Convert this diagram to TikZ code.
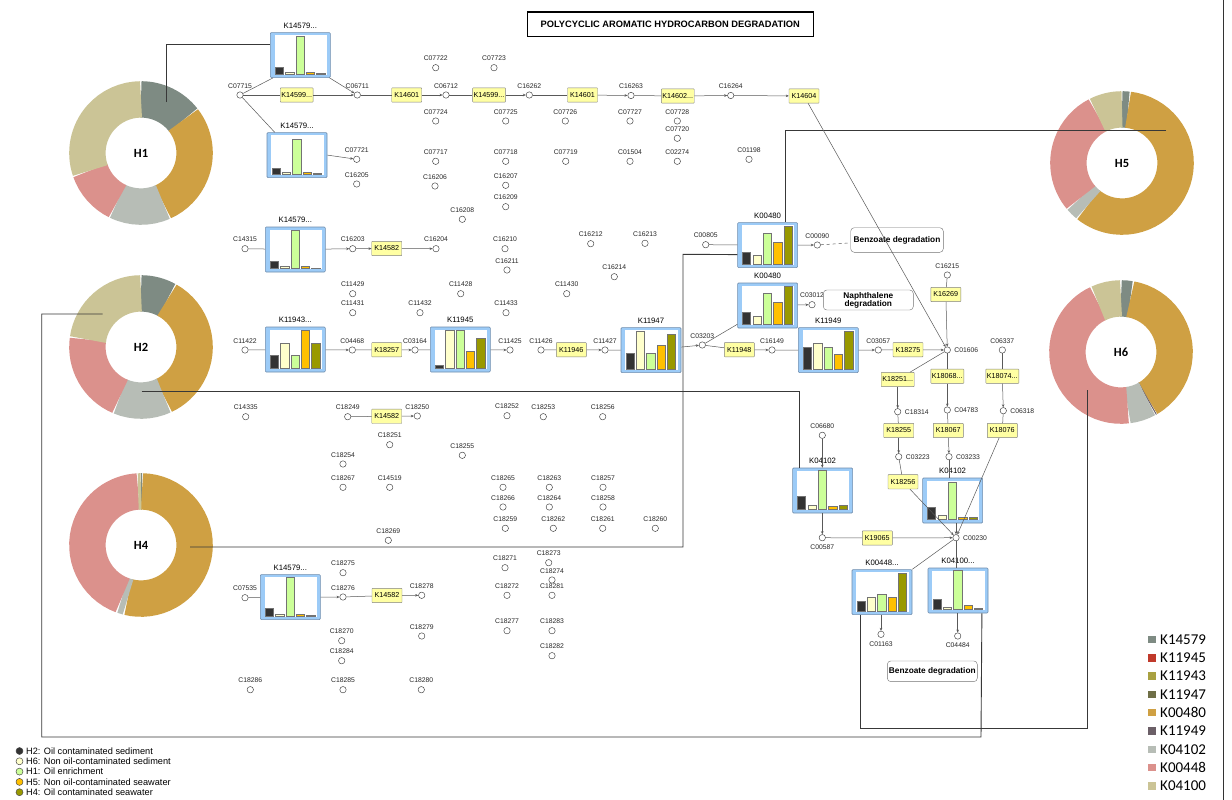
\documentclass[tikz,border=0pt]{standalone}
\usepackage{fontspec}
\setmainfont{Liberation Sans}
\newfontfamily\calib{Carlito}
\usetikzlibrary{arrows.meta}
\definecolor{kyellow}{HTML}{FFFFA3}
\definecolor{chblue}{HTML}{9CCBF7}
\definecolor{chborder}{HTML}{6F8DAD}
\definecolor{bA}{HTML}{333333}
\definecolor{bB}{HTML}{FFFFCC}
\definecolor{bC}{HTML}{CCFF99}
\definecolor{bD}{HTML}{FFC000}
\definecolor{bE}{HTML}{999900}
\definecolor{dKa}{HTML}{7E8B83}
\definecolor{dKb}{HTML}{C0392B}
\definecolor{dKc}{HTML}{A9A141}
\definecolor{dKd}{HTML}{6F6F47}
\definecolor{dKe}{HTML}{CFA043}
\definecolor{dKf}{HTML}{6B5F67}
\definecolor{dKg}{HTML}{B7BDB6}
\definecolor{dKh}{HTML}{DB918C}
\definecolor{dKi}{HTML}{CBC496}
\tikzset{
 cpd/.style={circle, draw=black!70, fill=white, line width=0.5pt, minimum size=6.4pt, inner sep=0pt},
 clab/.style={font=\fontsize{6.8}{7}\selectfont, text=black!85, inner sep=0.5pt},
 kbox/.style={draw=black!50, fill=kyellow, minimum width=30pt, minimum height=14.3pt, inner sep=1pt, font=\fontsize{7.2}{8}\selectfont, rounded corners=0.6pt},
 chfr/.style={draw=chborder, fill=chblue, minimum width=60pt, minimum height=45pt, inner sep=0pt, line width=0.6pt, rounded corners=1pt},
 chlab/.style={font=\fontsize{7.8}{9}\selectfont, inner sep=0.5pt},
 conn/.style={draw=black!65, line width=0.5pt},
 arr/.style={conn, -{Stealth[length=3pt,width=2.6pt]}},
 hline/.style={draw=black!78, line width=0.9pt},
 bar/.style={draw=black!55, line width=0.4pt},
 pathbox/.style={draw=black!55, rounded corners=3.5pt, fill=white, font=\bfseries\fontsize{8.3}{9.3}\selectfont, align=center, inner sep=1pt},
 dlab/.style={font=\calib\bfseries\fontsize{12.5}{13}\selectfont},
 lgc/.style={circle, draw=black!70, minimum size=7pt, inner sep=0pt, line width=0.5pt},
 lgt/.style={font=\fontsize{9.2}{9.5}\selectfont, inner sep=0pt},
 rlsq/.style={minimum size=7.5pt, inner sep=0pt},
 rlt/.style={font=\calib\fontsize{15}{16}\selectfont, inner sep=0pt},
}
\newcommand\CPa[4]{\node[cpd] (#1) at (#2,#3) {}; \node[clab, anchor=base] (#1-l) at ([yshift=6.9pt]#1.center) {#4};}
\newcommand\CPr[4]{\node[cpd] (#1) at (#2,#3) {}; \node[clab, anchor=west] (#1-l) at ([xshift=3pt]#1.east) {#4};}
\newcommand\CPb[4]{\node[cpd] (#1) at (#2,#3) {}; \node[clab, anchor=north] (#1-l) at ([yshift=-3pt]#1.south) {#4};}
\newcommand\Chart[9]{%
 \node[chfr, anchor=north west] (#1) at (#2,#3) {};
 \node[chlab, anchor=base] (#1-l) at ([yshift=3.8pt]#1.north) {#4};
 \fill[white] (#2+4.5,#3+3) rectangle (#2+57,#3+42.5);
 \draw[bar, fill=bA] (#2+5,#3+41.8) rectangle ++(8.3,-#5);
 \draw[bar, fill=bB] (#2+15.4,#3+41.8) rectangle ++(8.3,-#6);
 \draw[bar, fill=bC] (#2+25.8,#3+41.8) rectangle ++(8.3,-#7);
 \draw[bar, fill=bD] (#2+36.2,#3+41.8) rectangle ++(8.3,-#8);
 \draw[bar, fill=bE] (#2+46.6,#3+41.8) rectangle ++(8.3,-#9);
}
\newcommand\seg[5]{\draw[line width=36.4pt, draw=#5] ([shift={(#1,#2)}]#3-90:53.6) arc[start angle=#3-90, end angle=#4-90, radius=53.6];}
\begin{document}
\begin{tikzpicture}[x=1pt,y=-1pt]
\useasboundingbox (0,0) rectangle (1232,800);
\fill[white] (0,0) rectangle (1232,800);
\draw[black!80, line width=0.8pt] (1223,0) -- (1223,800);
% title
\node[draw=black, line width=1.2pt, minimum width=286pt, minimum height=24.4pt, inner sep=0pt, font=\bfseries\fontsize{9.3}{10}\selectfont] (title) at (670.3,24.3) {POLYCYCLIC AROMATIC HYDROCARBON DEGRADATION};
% donuts
\seg{141}{153}{0}{52}{dKa}\seg{141}{153}{52}{156}{dKe}\seg{141}{153}{156}{206}{dKg}\seg{141}{153}{206}{251}{dKh}\seg{141}{153}{251}{360}{dKi}
\node[dlab] (H1) at (141,153) {H1};
\seg{141}{347}{0}{29}{dKa}\seg{141}{347}{29}{155}{dKe}\seg{141}{347}{155}{203}{dKg}\seg{141}{347}{203}{278}{dKh}\seg{141}{347}{278}{360}{dKi}
\node[dlab] (H2) at (141,347) {H2};
\seg{141}{545}{0}{1}{dKa}\seg{141}{545}{1}{194}{dKe}\seg{141}{545}{194}{200}{dKg}\seg{141}{545}{200}{357}{dKh}\seg{141}{545}{357}{360}{dKi}
\node[dlab] (H4) at (141,545) {H4};
\seg{1122}{163}{0}{6.5}{dKa}\seg{1122}{163}{6.5}{219}{dKe}\seg{1122}{163}{219}{230}{dKg}\seg{1122}{163}{230}{333}{dKh}\seg{1122}{163}{333}{360}{dKi}
\node[dlab] (H5) at (1122,163) {H5};
\seg{1121}{352}{0}{10}{dKa}\seg{1121}{352}{10}{150}{dKe}\seg{1121}{352}{150}{151}{dKf}\seg{1121}{352}{151}{173}{dKg}\seg{1121}{352}{173}{335}{dKh}\seg{1121}{352}{335}{360}{dKi}
\node[dlab] (H6) at (1121,352) {H6};
% charts
\Chart{chA}{270}{32.3}{K14579...}{7.3}{2.3}{38.3}{2.3}{0.8}
\Chart{chB}{266.7}{132.3}{K14579...}{6.4}{1.7}{35}{1.7}{0.7}
\Chart{chC}{265}{226.7}{K14579...}{7.6}{2}{38.3}{2}{0.7}
\Chart{chD}{265}{326.7}{K11943...}{13.3}{25.7}{13}{38.3}{25.7}
\Chart{chE}{430}{326.7}{K11945}{3.3}{38.3}{38.3}{17}{30.7}
\Chart{chF}{620.7}{327.3}{K11947}{16.3}{38}{16.3}{24}{35}
\Chart{chG}{737.3}{222.3}{K00480}{12.3}{9}{31.3}{22.3}{38}
\Chart{chH}{737.3}{282.7}{K00480}{12.7}{8.6}{31}{22.7}{38}
\Chart{chI}{798}{327.3}{K11949}{22.3}{25.7}{21.7}{15}{38}
\Chart{chJ}{792.3}{467.7}{K04102}{13.3}{4.7}{39}{3.3}{4}
\Chart{chK}{922.3}{477.7}{K04102}{12.6}{4.3}{37.6}{2.3}{2.7}
\Chart{chL}{851.7}{569.3}{K00448...}{10}{14}{17.4}{14}{38.4}
\Chart{chM}{927.7}{567.7}{K04100...}{10}{2.7}{39}{4}{1.3}
\Chart{chN}{260}{574.3}{K14579...}{8}{2.3}{39}{2.3}{1}
% compounds row 1
\CPa{C07722}{435.7}{67.7}{C07722}
\CPa{C07723}{494}{67.7}{C07723}
\CPa{C07715}{240}{95}{C07715}
\CPa{C06711}{357.3}{95}{C06711}
\CPa{C06712}{446}{95}{C06712}
\CPa{C16262}{529.3}{95}{C16262}
\CPa{C16263}{631}{95.5}{C16263}
\CPa{C16264}{730.7}{95.5}{C16264}
\CPa{C07724}{435.7}{121}{C07724}
\CPa{C07725}{505.7}{121}{C07725}
\CPa{C07726}{565.3}{121}{C07726}
\CPa{C07727}{630}{121}{C07727}
\CPa{C07728}{677.3}{121}{C07728}
\CPa{C07720}{677.3}{138.3}{C07720}
\CPa{C07721}{356.7}{159.3}{C07721}
\CPa{C07717}{435.7}{161.3}{C07717}
\CPa{C07718}{505.7}{161.3}{C07718}
\CPa{C07719}{565.7}{161.3}{C07719}
\CPa{C01504}{630}{161.3}{C01504}
\CPa{C02274}{677.3}{161.3}{C02274}
\CPa{C01198}{749}{159.3}{C01198}
\CPa{C16205}{356.7}{184}{C16205}
\CPa{C16206}{435}{186}{C16206}
\CPa{C16207}{505.7}{185.3}{C16207}
\CPa{C16209}{505.7}{206.7}{C16209}
\CPa{C16208}{462.3}{219.3}{C16208}
% row 2
\CPa{C14315}{245}{248.7}{C14315}
\CPa{C16203}{352.7}{248.7}{C16203}
\CPa{C16204}{436}{248.7}{C16204}
\CPa{C16210}{505}{248.7}{C16210}
\CPa{C16211}{507}{270}{C16211}
\CPa{C16212}{590.7}{243.7}{C16212}
\CPa{C16213}{645}{243.3}{C16213}
\CPa{C16214}{614.3}{276.7}{C16214}
\CPa{C00805}{705.7}{244.7}{C00805}
\CPa{C00090}{817.3}{245}{C00090}
\CPa{C11429}{352.7}{293.7}{C11429}
\CPa{C11428}{460.7}{293.7}{C11428}
\CPa{C11430}{566.7}{293.7}{C11430}
\CPa{C11431}{352.7}{312.7}{C11431}
\CPa{C11432}{420}{312.7}{C11432}
\CPa{C11433}{506}{312.7}{C11433}
\CPa{C16215}{947.3}{275}{C16215}
\CPa{C03012}{812}{304.7}{C03012}
% row 3
\CPa{C11422}{245}{350}{C11422}
\CPa{C04468}{352.3}{350}{C04468}
\CPa{C03164}{415}{350}{C03164}
\CPa{C11425}{510}{350}{C11425}
\CPa{C11426}{541}{350}{C11426}
\CPa{C11427}{605}{350}{C11427}
\CPa{C03203}{702.3}{345}{C03203}
\CPa{C16149}{772}{350}{C16149}
\CPa{C03057}{878.3}{350}{C03057}
\CPr{C01606}{947.3}{350}{C01606}
\CPa{C06337}{1002.3}{350}{C06337}
\CPr{C18314}{897.7}{411.7}{C18314}
\CPr{C04783}{947.3}{410}{C04783}
\CPr{C06318}{1003.3}{410.7}{C06318}
\CPr{C03223}{898.7}{456.7}{C03223}
\CPr{C03233}{949}{456.7}{C03233}
\CPa{C06680}{822.3}{435.3}{C06680}
\CPb{C00587}{822.3}{537.7}{C00587}
\CPr{C00230}{956}{537.7}{C00230}
\CPb{C01163}{881}{634.3}{C01163}
\CPb{C04484}{957.7}{636}{C04484}
% row 4
\CPa{C14335}{245.7}{416.7}{C14335}
\CPa{C18249}{347.7}{416.7}{C18249}
\CPa{C18250}{417.3}{416}{C18250}
\CPa{C18252}{507}{415.7}{C18252}
\CPa{C18253}{543.3}{416.7}{C18253}
\CPa{C18256}{602.7}{416.7}{C18256}
\CPa{C18251}{389.7}{444.7}{C18251}
\CPa{C18255}{462.3}{455.3}{C18255}
\CPa{C18254}{343}{464}{C18254}
\CPa{C18267}{343}{487.3}{C18267}
\CPa{C14519}{389.7}{487.3}{C14519}
\CPa{C18265}{503}{487.3}{C18265}
\CPa{C18263}{549.3}{487.3}{C18263}
\CPa{C18257}{603}{487.3}{C18257}
\CPa{C18266}{503}{507}{C18266}
\CPa{C18264}{549.3}{507}{C18264}
\CPa{C18258}{603}{507}{C18258}
\CPa{C18259}{505.3}{528.3}{C18259}
\CPa{C18262}{553.3}{528.3}{C18262}
\CPa{C18261}{602.7}{528.3}{C18261}
\CPa{C18260}{655.3}{528.3}{C18260}
\CPa{C18269}{388.3}{540.3}{C18269}
\CPa{C18271}{505}{567.7}{C18271}
\CPa{C18273}{548.7}{562.7}{C18273}
\CPa{C18274}{552}{580}{C18274}
\CPa{C18275}{343}{572.7}{C18275}
\CPa{C07535}{245}{597.7}{C07535}
\CPa{C18276}{343}{597}{C18276}
\CPa{C18278}{421.7}{595.3}{C18278}
\CPa{C18272}{507}{595.3}{C18272}
\CPa{C18281}{552}{595.3}{C18281}
\CPa{C18277}{507}{630.7}{C18277}
\CPa{C18283}{552}{630.7}{C18283}
\CPa{C18270}{341.7}{640.7}{C18270}
\CPa{C18279}{421.7}{636}{C18279}
\CPa{C18284}{341.7}{660.7}{C18284}
\CPa{C18282}{552}{655.7}{C18282}
\CPa{C18286}{250.3}{689.7}{C18286}
\CPa{C18285}{343}{689.7}{C18285}
\CPa{C18280}{421.3}{689.7}{C18280}
% reaction boxes
\node[kbox] (K14599a) at (296.7,95) {K14599...};
\node[kbox] (K14601a) at (406.7,95) {K14601};
\node[kbox] (K14599b) at (489,95) {K14599...};
\node[kbox] (K14601b) at (582.5,95) {K14601};
\node[kbox] (K14602) at (677.8,96) {K14602...};
\node[kbox] (K14604) at (804,96) {K14604};
\node[kbox] (K14582a) at (386.7,248.5) {K14582};
\node[kbox] (K18257) at (386.7,349.7) {K18257};
\node[kbox] (K11946) at (571.3,349.7) {K11946};
\node[kbox] (K11948) at (739.3,349.7) {K11948};
\node[kbox] (K18275) at (908,349.7) {K18275};
\node[kbox] (K16269) at (945.8,294.5) {K16269};
\node[kbox, minimum width=33pt] (K18251) at (897.7,379.5) {K18251...};
\node[kbox, minimum width=33pt] (K18068) at (947.3,376.2) {K18068...};
\node[kbox, minimum width=33pt] (K18074) at (1002.3,376.2) {K18074...};
\node[kbox] (K18255) at (898.7,430.5) {K18255};
\node[kbox] (K18067) at (948.3,430.5) {K18067};
\node[kbox] (K18076) at (1002.3,430.5) {K18076};
\node[kbox] (K18256) at (903,481.8) {K18256};
\node[kbox] (K19065) at (877.3,538) {K19065};
\node[kbox] (K14582b) at (386.7,416.3) {K14582};
\node[kbox] (K14582c) at (387,595.5) {K14582};
% pathway boxes
\node[pathbox, minimum width=92.6pt, minimum height=24.6pt] (Benz1) at (897,240) {Benzoate degradation};
\node[pathbox, minimum width=90pt, minimum height=20pt] (Naph) at (868.3,300) {Naphthalene\\[-1.5pt]degradation};
\node[pathbox, minimum width=90pt, minimum height=20.7pt] (Benz2) at (932.3,671.3) {Benzoate degradation};
% long connectors
\coordinate (h1a) at (166,102);
\draw[hline] (h1a) |- ([yshift=10.8pt]chA.west);
\coordinate (h2a) at (102.7,314);
\draw[hline] (h2a) -- (41.7,314) -- (41.7,737) -- (981,737) -- ([xshift=-6.4pt]chM.south east);
\coordinate (h2b) at (141.7,391);
\draw[hline] (h2b) -| ([xshift=6.7pt]chJ.north west);
\coordinate (h4a) at (190,547);
\draw[hline] (h4a) -- (683,547) -- (683,254.3) -- ([yshift=-9.5pt]chG.west);
\coordinate (h5a) at (1166,130);
\draw[hline] (h5a) -| ([xshift=48.4pt]chG.north west);
\coordinate (h6a) at (1087,390);
\draw[hline] (h6a) -- (1087,728) -| ([xshift=8.3pt]chL.south west);
% connectors row 1
\draw[conn] (C07715) -- ([xshift=3pt]chA.south west);
\draw[arr] ([xshift=-1pt]chA.south east) -- (C06711);
\draw[conn] (C07715) -- (K14599a);
\draw[arr] (K14599a) -- (C06711);
\draw[conn] (C07715) -- ([xshift=8pt]chB.north west);
\draw[arr] (chB.east) -- (C07721);
\draw[conn] (C06711) -- (K14601a);
\draw[arr] (K14601a) -- (C06712);
\draw[conn] (C06712) -- (K14599b);
\draw[arr] (K14599b) -- (C16262);
\draw[conn] (C16262) -- (K14601b);
\draw[arr] (K14601b) -- (C16263);
\draw[conn] (C16263) -- (K14602);
\draw[arr] (K14602) -- (C16264);
\draw[arr] (C16264) -- (K14604);
\draw[arr] (K14604) -- (C01606);
% row 2
\draw[conn] (C14315) -- (chC);
\draw[arr] (chC) -- (C16203);
\draw[arr] (C16203) -- (K14582a);
\draw[arr] (K14582a) -- (C16204);
% row 3
\draw[conn] (C11422) -- (chD);
\draw[arr] (chD) -- (C04468);
\draw[conn] (C04468) -- (K18257);
\draw[arr] (K18257) -- (C03164);
\draw[conn] (C03164) -- (chE);
\draw[arr] (chE) -- (C11425);
\draw[conn] (C11426) -- (K11946);
\draw[arr] (K11946) -- (C11427);
\draw[conn] (C11427) -- (chF);
\draw[arr] (chF) -- (C03203);
\draw[conn] (C03203) -- ([yshift=4pt]chH.south west);
\draw[arr] (chH) -- (C03012);
\draw[conn] (C03203) -- (K11948);
\draw[arr] (K11948) -- (C16149);
\draw[conn] (C16149) -- (chI);
\draw[arr] (chI) -- (C03057);
\draw[conn] (C03057) -- (K18275);
\draw[arr] (K18275) -- (C01606);
\draw[conn] (C00805) -- (chG);
\draw[arr] (chG) -- (C00090);
\draw[conn, dashed] (C00090) -- (Benz1);
\draw[conn] (C16215) -- (K16269);
\draw[arr] (K16269) -- (C01606);
\draw[conn] (C01606) -- (K18251);
\draw[conn] (C01606) -- (K18068);
\draw[conn] (C06337) -- (K18074);
\draw[arr] (K18251) -- (C18314);
\draw[arr] (K18068) -- (C04783);
\draw[arr] (K18074) -- (C06318);
\draw[conn] (C18314) -- (K18255);
\draw[conn] (C04783) -- (K18067);
\draw[conn] (C06318) -- (K18076);
\draw[arr] (K18255) -- (C03223);
\draw[arr] (K18067) -- (C03233);
\draw[arr] (K18076) -- (C00230);
\draw[conn] (C03223) -- (K18256);
\draw[arr] (K18256) -- (C00230);
\draw[conn] (C03233) -- (C03233 |- chK.north);
\draw[arr] (C00230 |- chK.south) -- (C00230);
\draw[arr] (C06680) -- (C06680 |- chJ.north);
\draw[arr] (C00587 |- chJ.south) -- (C00587);
\draw[conn] (C00587) -- (K19065);
\draw[arr] (K19065) -- (C00230);
\draw[conn] (C00230) -- (chL.north east);
\draw[conn] (C00230) -- (C00230 |- chM.north);
\draw[arr] (C01163 |- chL.south) -- (C01163);
\draw[arr] (C04484 |- chM.south) -- (C04484);
% row 4
\draw[conn] (C18249) -- (K14582b);
\draw[arr] (K14582b) -- (C18250);
\draw[conn] (C07535) -- (chN);
\draw[arr] (chN) -- (C18276);
\draw[conn] (C18276) -- (K14582c);
\draw[arr] (K14582c) -- (C18278);
% legend bottom-left
\node[lgc, fill=bA] (lg1) at (19.5,751) {};
\node[lgt, anchor=west] (lg1t) at (26,751) {H2: Oil contaminated sediment};
\node[lgc, fill=bB] (lg2) at (19.5,761.3) {};
\node[lgt, anchor=west] (lg2t) at (26,761.3) {H6: Non oil-contaminated sediment};
\node[lgc, fill=bC] (lg3) at (19.5,771.6) {};
\node[lgt, anchor=west] (lg3t) at (26,771.6) {H1: Oil enrichment};
\node[lgc, fill=bD] (lg4) at (19.5,781.9) {};
\node[lgt, anchor=west] (lg4t) at (26,781.9) {H5: Non oil-contaminated seawater};
\node[lgc, fill=bE] (lg5) at (19.5,792.2) {};
\node[lgt, anchor=west] (lg5t) at (26,792.2) {H4: Oil contaminated seawater};
% legend right
\node[rlsq, fill=dKa] (r1) at (1152,639.5) {};
\node[rlt, anchor=west] (r1t) at (1160,639.5) {K14579};
\node[rlsq, fill=dKb] (r2) at (1152,657.8) {};
\node[rlt, anchor=west] (r2t) at (1160,657.8) {K11945};
\node[rlsq, fill=dKc] (r3) at (1152,676.1) {};
\node[rlt, anchor=west] (r3t) at (1160,676.1) {K11943};
\node[rlsq, fill=dKd] (r4) at (1152,694.4) {};
\node[rlt, anchor=west] (r4t) at (1160,694.4) {K11947};
\node[rlsq, fill=dKe] (r5) at (1152,712.7) {};
\node[rlt, anchor=west] (r5t) at (1160,712.7) {K00480};
\node[rlsq, fill=dKf] (r6) at (1152,731) {};
\node[rlt, anchor=west] (r6t) at (1160,731) {K11949};
\node[rlsq, fill=dKg] (r7) at (1152,749.3) {};
\node[rlt, anchor=west] (r7t) at (1160,749.3) {K04102};
\node[rlsq, fill=dKh] (r8) at (1152,767.6) {};
\node[rlt, anchor=west] (r8t) at (1160,767.6) {K00448};
\node[rlsq, fill=dKi] (r9) at (1152,785.9) {};
\node[rlt, anchor=west] (r9t) at (1160,785.9) {K04100};
\end{tikzpicture}
\end{document}
